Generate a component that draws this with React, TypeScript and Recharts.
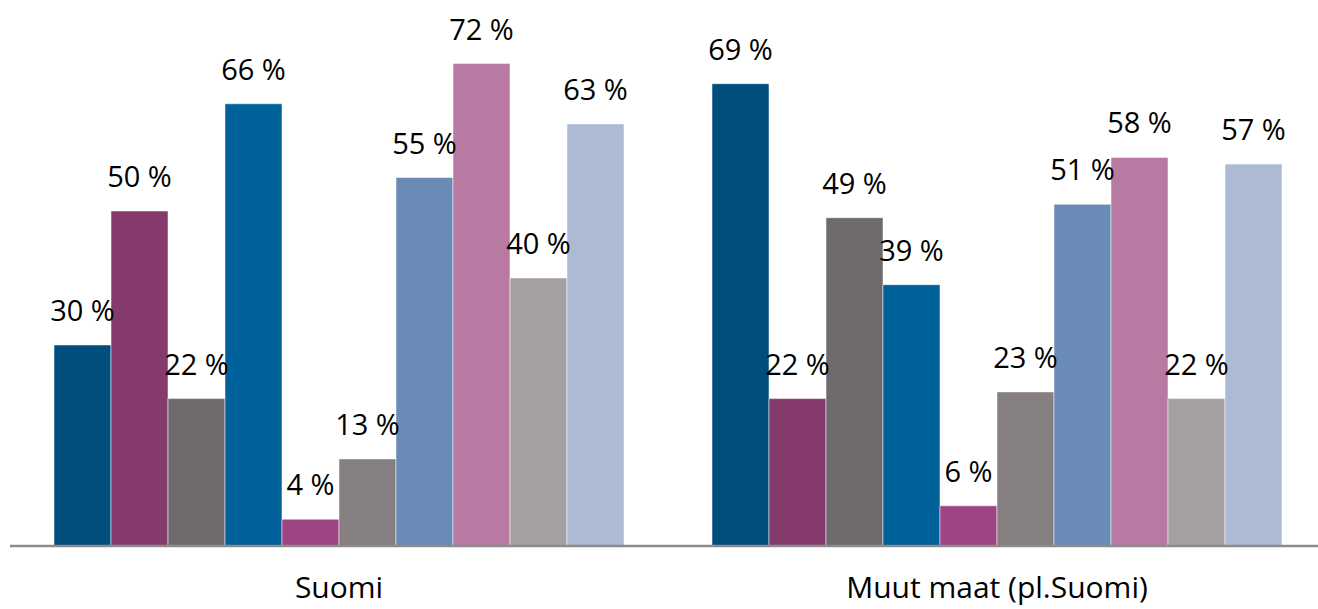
import React from 'react';
import { BarChart, Bar, XAxis, YAxis, LabelList } from 'recharts';

const categories = ['Suomi', 'Muut maat (pl.Suomi)'];
const suomiValues = [30, 50, 22, 66, 4, 13, 55, 72, 40, 63];
const muutValues = [69, 22, 49, 39, 6, 23, 51, 58, 22, 57];
const seriesColors = [
  '#004E7E',
  '#853A6C',
  '#6F6A6E',
  '#00619B',
  '#9E4483',
  '#857F82',
  '#6A8BB5',
  '#B879A3',
  '#A39FA2',
  '#ACBBD3',
];

const valuesByCategory = [suomiValues, muutValues];

// one row per category, s0..s9 keys for the series
const chartData = categories.map((name, ci) => {
  const row: Record<string, string | number> = { name };
  valuesByCategory[ci].forEach((v, si) => {
    row[`s${si}`] = v;
  });
  return row;
});

const FONT = '"Open Sans", "Noto Sans", sans-serif';

const App: React.FC = () => {
  return (
    <div
      style={{
        position: 'absolute',
        left: 0,
        top: 0,
        width: 1318,
        height: 609,
        overflow: 'hidden',
        background: '#fff',
      }}
    >
      <BarChart
        width={1330}
        height={609}
        data={chartData}
        margin={{ top: 10, right: 4, bottom: 0, left: 10 }}
        barCategoryGap={44}
        barGap={0}
      >
        <XAxis
          dataKey="name"
          height={63}
          tickLine={false}
          tickSize={0}
          tickMargin={31}
          axisLine={{ stroke: '#8C8C8C', strokeWidth: 2.5 }}
          tick={{ fill: '#000', fontSize: 30, fontFamily: FONT }}
          interval={0}
        />
        <YAxis hide domain={[0, 80]} />
        {seriesColors.map((color, si) => (
          <Bar
            key={si}
            dataKey={`s${si}`}
            fill={color}
            stroke="#ffffff"
            strokeOpacity={0.5}
            strokeWidth={1}
            isAnimationActive={false}
          >
            <LabelList
              dataKey={`s${si}`}
              position="top"
              offset={24}
              formatter={(v: any) => `${v} %`}
              style={{ fill: '#000', fontSize: 29, fontFamily: FONT }}
            />
          </Bar>
        ))}
      </BarChart>
    </div>
  );
};

export default App;
